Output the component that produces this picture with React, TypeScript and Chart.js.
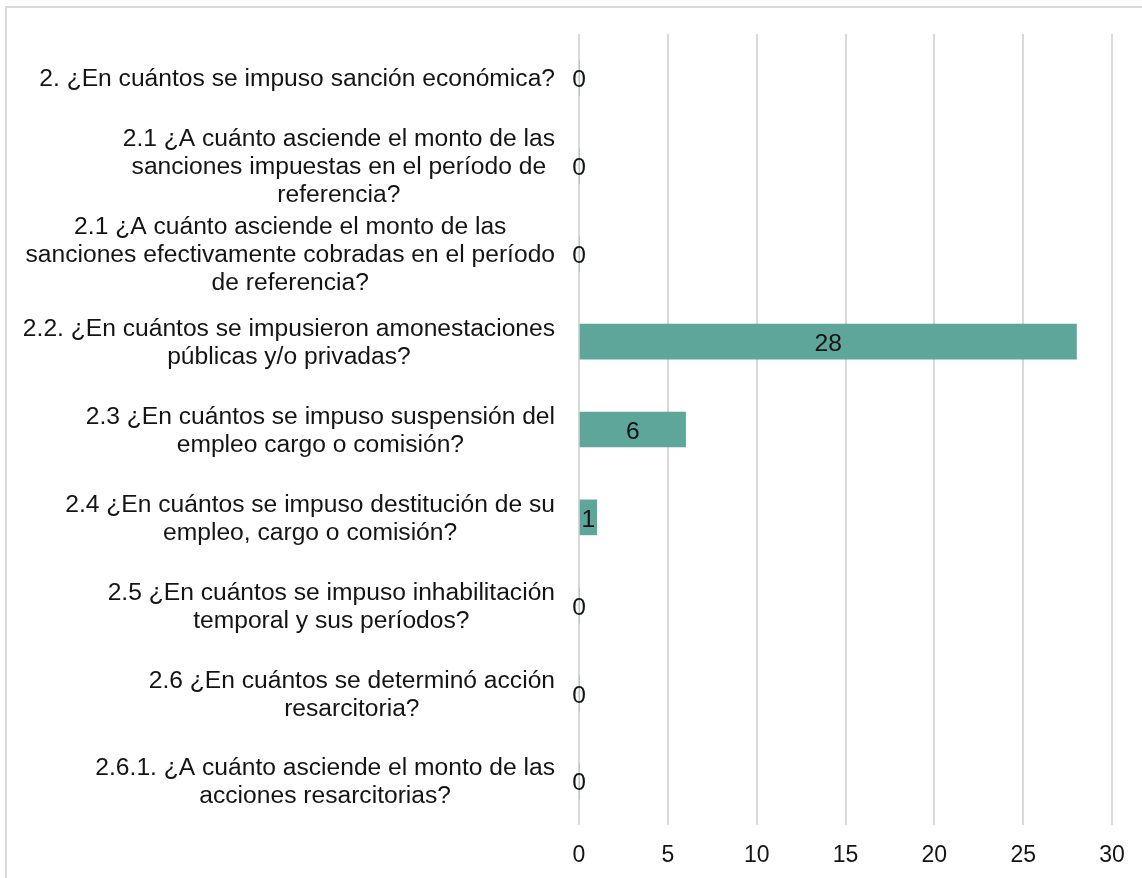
import { useEffect, useRef } from "react";
import { Chart, registerables } from "chart.js";

Chart.register(...registerables);

const categories: string[][] = [
  ["2. ¿En cuántos se impuso sanción económica?"],
  ["2.1 ¿A cuánto asciende el monto de las", "sanciones impuestas en el período de", "referencia?"],
  ["2.1 ¿A cuánto asciende el monto de las", "sanciones efectivamente cobradas en el período", "de referencia?"],
  ["2.2. ¿En cuántos se impusieron amonestaciones", "públicas y/o privadas?"],
  ["2.3 ¿En cuántos se impuso suspensión del", "empleo cargo o comisión?"],
  ["2.4 ¿En cuántos se impuso destitución de su", "empleo, cargo o comisión?"],
  ["2.5 ¿En cuántos se impuso inhabilitación", "temporal y sus períodos?"],
  ["2.6 ¿En cuántos se determinó acción", "resarcitoria?"],
  ["2.6.1. ¿A cuánto asciende el monto de las", "acciones resarcitorias?"],
];
const values = [0, 0, 0, 28, 6, 1, 0, 0, 0];
const xTicks = [0, 5, 10, 15, 20, 25, 30];

const FONT = '"Liberation Sans", Arial, sans-serif';
const TEXT = "#141414";
const BAR = "#5ea59a";
const GRID = "#d9d9d9";
const LABEL_SIZE = 23;
const SX = 1.07;
const LH = 28;
const LABEL_RIGHT = 555;
const TEXT_DY = 2;

const framePlugin = {
  id: "frame",
  beforeDraw(chart: any) {
    const ctx = chart.ctx;
    ctx.save();
    ctx.fillStyle = "#ffffff";
    ctx.fillRect(0, 0, chart.width, chart.height);
    ctx.strokeStyle = GRID;
    ctx.lineWidth = 2;
    ctx.beginPath();
    ctx.moveTo(6, chart.height);
    ctx.lineTo(6, 7);
    ctx.lineTo(chart.width, 7);
    ctx.stroke();
    ctx.restore();
  },
};

const catLabelPlugin = {
  id: "catLabels",
  afterDraw(chart: any) {
    const ctx = chart.ctx;
    const yScale = chart.scales.y;
    ctx.save();
    ctx.font = `${LABEL_SIZE}px ${FONT}`;
    ctx.fillStyle = TEXT;
    ctx.textBaseline = "middle";
    ctx.textAlign = "center";
    (chart.data.labels as any[]).forEach((lab, i) => {
      const lines: string[] = Array.isArray(lab) ? lab : [String(lab)];
      const maxW = Math.max(...lines.map((l) => ctx.measureText(l).width)) * SX;
      const cx = LABEL_RIGHT - maxW / 2;
      const cy = yScale.getPixelForValue(i) + TEXT_DY;
      lines.forEach((l, k) => {
        const ly = cy + (k - (lines.length - 1) / 2) * LH;
        ctx.save();
        ctx.translate(cx, ly);
        ctx.scale(SX, 1);
        ctx.fillText(l, 0, 0);
        ctx.restore();
      });
    });
    ctx.restore();
  },
};

const valueLabelPlugin = {
  id: "valueLabels",
  afterDatasetsDraw(chart: any) {
    const ctx = chart.ctx;
    const meta = chart.getDatasetMeta(0);
    const data = chart.data.datasets[0].data as number[];
    ctx.save();
    ctx.font = `${LABEL_SIZE}px ${FONT}`;
    ctx.fillStyle = TEXT;
    ctx.textBaseline = "middle";
    ctx.textAlign = "center";
    meta.data.forEach((el: any, i: number) => {
      const p = el.getProps(["x", "y", "base"], true);
      const cx = (p.x + p.base) / 2;
      ctx.save();
      ctx.translate(cx, p.y + TEXT_DY);
      ctx.scale(SX, 1);
      ctx.fillText(String(data[i]), 0, 1);
      ctx.restore();
    });
    ctx.restore();
  },
};

export default function App() {
  const ref = useRef<HTMLCanvasElement | null>(null);

  useEffect(() => {
    if (!ref.current) return;
    const chart = new Chart(ref.current, {
      type: "bar",
      data: {
        labels: categories as any,
        datasets: [
          {
            data: values,
            backgroundColor: BAR,
            borderWidth: 0,
            barThickness: 35,
          },
        ],
      },
      options: {
        indexAxis: "y",
        animation: false,
        responsive: false,
        maintainAspectRatio: false,
        layout: { padding: { top: 34, right: 30, left: 0, bottom: 0 } },
        plugins: {
          legend: { display: false },
          tooltip: { enabled: false },
          title: { display: false },
        },
        scales: {
          y: {
            type: "category",
            grid: { display: false },
            border: { display: false },
            ticks: { display: false },
            afterFit: (s: any) => {
              s.width = 579;
            },
          },
          x: {
            type: "linear",
            min: 0,
            max: 30,
            afterBuildTicks: (s: any) => {
              s.ticks = xTicks.map((v) => ({ value: v }));
            },
            grid: { color: GRID, lineWidth: 2, drawTicks: false },
            border: { display: false },
            ticks: {
              color: TEXT,
              font: { family: FONT, size: 23 },
              padding: 17,
              maxRotation: 0,
            },
            afterFit: (s: any) => {
              s.height = 53;
            },
          },
        },
      },
      plugins: [framePlugin, catLabelPlugin, valueLabelPlugin],
    });
    return () => chart.destroy();
  }, []);

  return (
    <div style={{ position: "absolute", left: 0, top: 0, width: 1142, height: 878, background: "#fff" }}>
      <canvas ref={ref} width={1142} height={878} style={{ display: "block", width: 1142, height: 878 }} />
    </div>
  );
}
